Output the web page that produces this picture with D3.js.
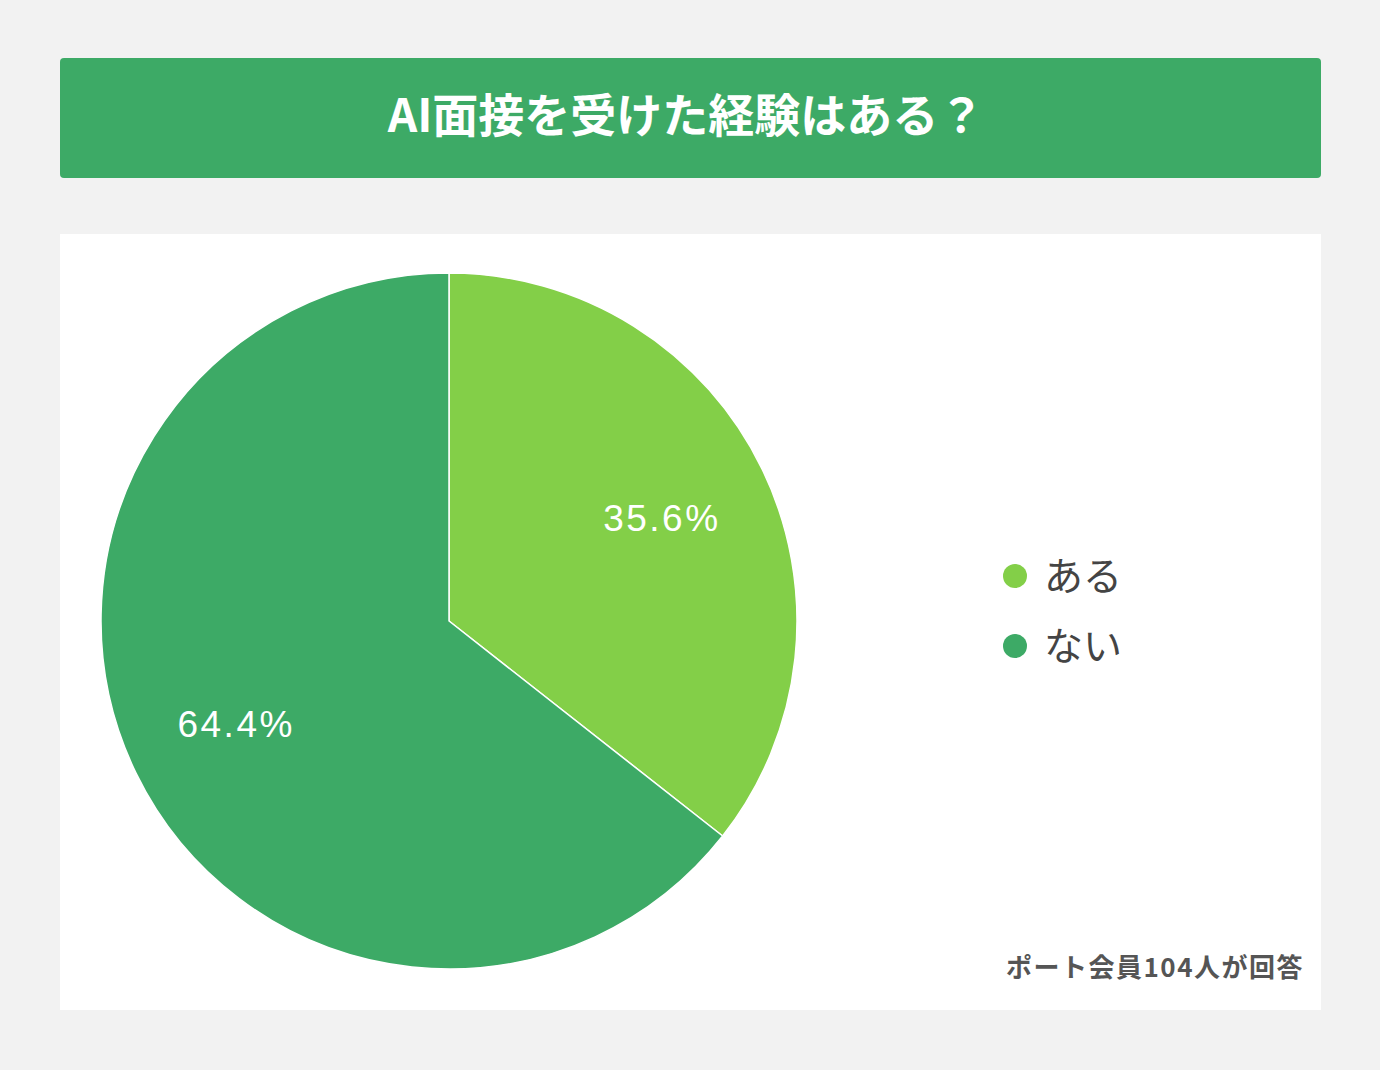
<!DOCTYPE html>
<html>
<head>
<meta charset="utf-8">
<script src="https://cdn.jsdelivr.net/npm/d3@7"></script>
<style>
  body { margin: 0; background: #f2f2f2; }
  svg { display: block; }
</style>
</head>
<body>
<svg id="chart"></svg>
<script>
// Chart data
const titleText = 'AI面接を受けた経験はある？';
const categories = ['ある', 'ない'];
const shares = [35.6, 64.4];
const sliceColors = ['#83cf48', '#3daa66'];
const noteText = 'ポート会員104人が回答';

const width = 1380, height = 1070;

const svg = d3.select('#chart')
    .attr('width', width)
    .attr('height', height);

svg.append('rect')
    .attr('width', width)
    .attr('height', height)
    .attr('fill', '#f2f2f2');

// Title banner
svg.append('rect')
    .attr('x', 60)
    .attr('y', 58)
    .attr('width', 1261)
    .attr('height', 120)
    .attr('rx', 4)
    .attr('fill', '#3daa66');

svg.append('text')
    .attr('x', 686)
    .attr('y', 116)
    .attr('dy', '0.35em')
    .attr('text-anchor', 'middle')
    .attr('fill', '#fff')
    .attr('font-family', '"Noto Sans CJK JP", sans-serif')
    .attr('font-weight', 700)
    .attr('font-size', 46)
    .text(titleText);

// White panel
svg.append('rect')
    .attr('x', 60)
    .attr('y', 234)
    .attr('width', 1261)
    .attr('height', 776)
    .attr('fill', '#fff');

// Pie
const cx = 449, cy = 621, radius = 348;
const pie = d3.pie().sort(null).value(d => d);
const arcs = pie(shares);
const arc = d3.arc().innerRadius(0).outerRadius(radius);
const labelArc = d3.arc().innerRadius(radius * 0.68).outerRadius(radius * 0.68);

const g = svg.append('g')
    .attr('transform', `translate(${cx},${cy})`);

g.selectAll('path')
    .data(arcs)
    .join('path')
    .attr('d', arc)
    .attr('fill', (d, i) => sliceColors[i])
    .attr('stroke', '#fff')
    .attr('stroke-width', 1.5);

g.selectAll('text')
    .data(arcs)
    .join('text')
    .attr('transform', d => `translate(${labelArc.centroid(d)})`)
    .attr('dy', '0.35em')
    .attr('text-anchor', 'middle')
    .attr('fill', '#fff')
    .attr('font-family', '"Liberation Sans", Arial, sans-serif')
    .attr('font-size', 37)
    .attr('letter-spacing', 2.5)
    .text(d => d.data.toFixed(1) + '%');

// Legend
const legend = svg.append('g')
    .attr('transform', 'translate(1015,576)');

const item = legend.selectAll('g')
    .data(categories)
    .join('g')
    .attr('transform', (d, i) => `translate(0,${i * 70})`);

item.append('circle')
    .attr('r', 12)
    .attr('fill', (d, i) => sliceColors[i]);

item.append('text')
    .attr('x', 29)
    .attr('dy', '0.35em')
    .attr('fill', '#444')
    .attr('font-family', '"Noto Sans CJK JP", sans-serif')
    .attr('font-size', 39)
    .text(d => d);

// Footnote
svg.append('text')
    .attr('x', 1304)
    .attr('y', 968)
    .attr('dy', '0.35em')
    .attr('text-anchor', 'end')
    .attr('fill', '#555')
    .attr('font-family', '"Noto Sans CJK JP", sans-serif')
    .attr('font-weight', 700)
    .attr('font-size', 26)
    .attr('letter-spacing', 1.5)
    .text(noteText);
</script>
</body>
</html>
